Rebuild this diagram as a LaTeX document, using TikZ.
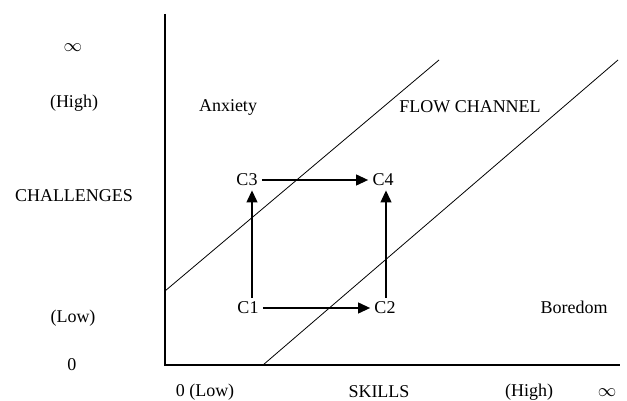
\documentclass[tikz,border=0pt]{standalone}
\usepackage{fontspec}
\setmainfont{Liberation Serif}
\usepackage{tikz}
\usetikzlibrary{arrows.meta, positioning}
\tikzset{
  lbl/.style={font=\fontsize{9}{10}\selectfont, inner sep=1pt},
  cnode/.style={font=\fontsize{9}{10}\selectfont, inner sep=2pt},
  axisline/.style={semithick, black},
  chanline/.style={black, thin},
  arr/.style={-{Triangle[length=6pt,width=5.5pt]}, semithick},
}
\begin{document}
\begin{tikzpicture}[x=0.5pt, y=-0.5pt]
        \useasboundingbox (0,0) rectangle (627,401);
        % axes
        \coordinate (o) at (165,365);
        \coordinate (ytop) at (165,14);
        \coordinate (xend) at (620,365);
        \draw[axisline] (ytop) -- (o) -- (xend);

        % flow channel borders
        \coordinate (ua) at (165,291);
        \coordinate (ub) at (439,60);
        \coordinate (la) at (263,365);
        \coordinate (lb) at (618,60);
        \draw[chanline] (ua) -- (ub);
        \draw[chanline] (la) -- (lb);

        % axis labels
        \node[lbl] (yinf)  at (73,48)  {$\infty$};
        \node[lbl] (yhigh) at (74,103) {(High)};
        \node[lbl] (ychal) at (74,196) {CHALLENGES};
        \node[lbl] (ylow)  at (73,318) {(Low)};
        \node[lbl] (yzero) at (72,365) {0};
        \node[lbl] (xlow)  at (205,392) {0 (Low)};
        \node[lbl] (xskl)  at (379,392) {SKILLS};
        \node[lbl] (xhigh) at (529,392) {(High)};
        \node[lbl] (xinf)  at (607,393) {$\infty$};

        % regions
        \node[lbl] (anx)  at (228,107) {Anxiety};
        \node[lbl] (flow) at (470,107) {FLOW CHANNEL};
        \node[lbl] (bor)  at (574,307) {Boredom};

        % states
        \node[cnode] (c1) at (248,308) {C1};
        \node[cnode] (c2) at (385,308) {C2};
        \node[cnode] (c3) at (247,180) {C3};
        \node[cnode] (c4) at (383,180) {C4};

        \coordinate (c1up) at ([xshift=2pt]c1.north);
        \coordinate (c2up) at ([xshift=0.5pt]c2.north);
        \draw[arr] (c1) -- (c2);
        \draw[arr] (c3) -- (c4);
        \draw[arr] (c1up) -- (c1up |- c3.south);
        \draw[arr] (c2up) -- (c2up |- c4.south);
\end{tikzpicture}
\end{document}
